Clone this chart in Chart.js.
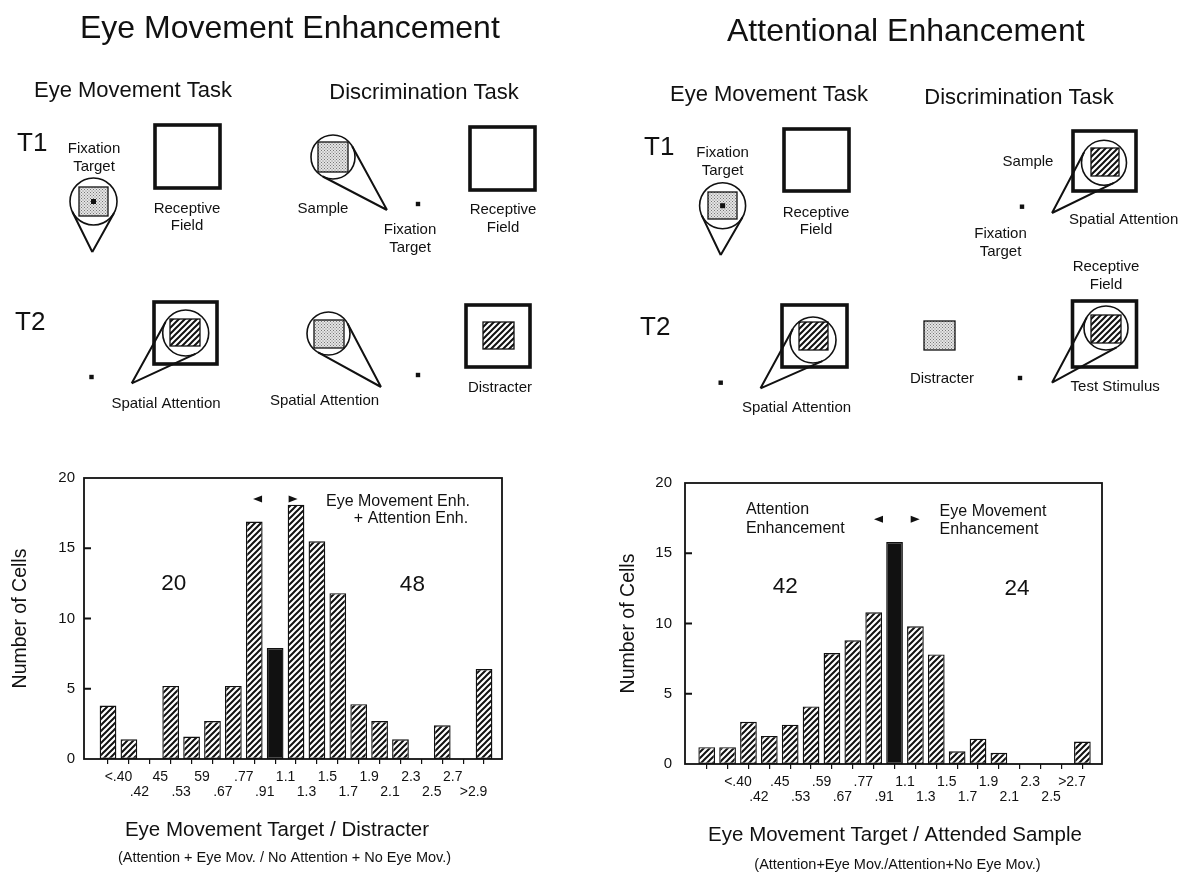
<!DOCTYPE html>
<html>
<head>
<meta charset="utf-8">
<title>Eye movement and attentional enhancement</title>
<script src="https://cdn.jsdelivr.net/npm/chart.js@4.4.1/dist/chart.umd.min.js"></script>
<style>
  html, body { margin: 0; padding: 0; background: #fff; }
  body { position: relative; width: 1185px; height: 872px; overflow: hidden; }
  canvas { position: absolute; }
</style>
</head>
<body>
<canvas id="sketch" width="1185" height="872" style="left:0;top:0"></canvas>
<canvas id="leftChart" width="560" height="412" style="left:0;top:460px"></canvas>
<canvas id="rightChart" width="595" height="412" style="left:590px;top:460px"></canvas>
<script>
// bin edges (ratio) and number of cells per bin
const leftEdges = ['<.40', '.42', '45', '.53', '59', '.67', '.77', '.91', '1.1', '1.3', '1.5', '1.7', '1.9', '2.1', '2.3', '2.5', '2.7', '>2.9'];
const leftCounts = [3.8, 1.4, 0, 5.2, 1.6, 2.7, 5.2, 16.9, 7.9, 18.1, 15.5, 11.8, 3.9, 2.7, 1.4, 0, 2.4, 0, 6.4];
const leftSolidBin = 8; // .91 - 1.1

const rightEdges = ['', '<.40', '.42', '.45', '.53', '.59', '.67', '.77', '.91', '1.1', '1.3', '1.5', '1.7', '1.9', '2.1', '2.3', '2.5', '>2.7'];
const rightCounts = [1.2, 1.2, 3.0, 2.0, 2.8, 4.1, 7.9, 8.8, 10.8, 15.8, 9.8, 7.8, 0.9, 1.8, 0.8, 0, 0, 0, 1.6];
const rightSolidBin = 9;

const INK = '#111';
const FAMILY = '"Liberation Sans", Arial, Helvetica, sans-serif';
Chart.defaults.font.family = FAMILY;
Chart.defaults.color = INK;

function makeHatch() {
  const c = document.createElement('canvas');
  c.width = c.height = 6;
  const g = c.getContext('2d');
  g.fillStyle = '#fff';
  g.fillRect(0, 0, 6, 6);
  g.strokeStyle = INK;
  g.lineWidth = 2;
  g.beginPath();
  g.moveTo(-1, 7); g.lineTo(7, -1);
  g.moveTo(-1, 1); g.lineTo(1, -1);
  g.moveTo(5, 7); g.lineTo(7, 5);
  g.stroke();
  return g.createPattern(c, 'repeat');
}

function makeStipple() {
  const c = document.createElement('canvas');
  c.width = c.height = 3;
  const g = c.getContext('2d');
  g.fillStyle = '#e4e4e4';
  g.fillRect(0, 0, 3, 3);
  g.fillStyle = '#777';
  g.fillRect(0, 0, 1, 1);
  g.fillRect(1.5, 1.5, 1, 1);
  return g.createPattern(c, 'repeat');
}

// box, inward y ticks, notes and x titles
function framePlugin(cfg) {
  return {
    id: 'frame',
    afterDatasetsDraw(chart) {
      const { ctx, chartArea: a, scales: { x, y } } = chart;
      ctx.save();
      ctx.strokeStyle = INK;
      ctx.fillStyle = INK;
      ctx.lineWidth = 1.8;
      ctx.strokeRect(a.left, a.top, a.right - a.left, a.bottom - a.top);
      ctx.beginPath();
      y.ticks.forEach(t => {
        if (t.value <= y.min || t.value >= y.max) return;
        const py = y.getPixelForValue(t.value);
        ctx.moveTo(a.left, py);
        ctx.lineTo(a.left + 7, py);
      });
      ctx.stroke();

      ctx.textBaseline = 'middle';
      cfg.notes.forEach(n => {
        ctx.font = n.size + 'px ' + FAMILY;
        ctx.textAlign = n.align || 'center';
        ctx.fillText(n.text, x.getPixelForValue(n.x), y.getPixelForValue(n.y));
      });
      cfg.arrows.forEach(ar => {
        const px = x.getPixelForValue(ar.x), py = y.getPixelForValue(ar.y);
        ctx.beginPath();
        ctx.moveTo(px + ar.dir * 4.5, py);
        ctx.lineTo(px - ar.dir * 4.5, py - 3.5);
        ctx.lineTo(px - ar.dir * 4.5, py + 3.5);
        ctx.closePath();
        ctx.fill();
      });
      ctx.textAlign = 'center';
      cfg.titles.forEach(t => {
        ctx.font = t.size + 'px ' + FAMILY;
        ctx.fillText(t.text, t.cx, t.cy);
      });
      ctx.restore();
    }
  };
}

function histogram(id, counts, edges, solidBin, cfg) {
  const hatch = makeHatch();
  return new Chart(document.getElementById(id), {
    type: 'bar',
    data: {
      datasets: [{
        data: counts.map((v, i) => ({ x: i, y: v })),
        backgroundColor: counts.map((v, i) => (i === solidBin ? INK : hatch)),
        borderColor: INK,
        borderWidth: 1.4,
        borderSkipped: false,
        barPercentage: 0.8,
        categoryPercentage: 1
      }]
    },
    options: {
      responsive: false,
      animation: false,
      events: [],
      layout: { padding: cfg.padding },
      plugins: { legend: { display: false }, tooltip: { enabled: false } },
      scales: {
        x: {
          type: 'linear',
          offset: false,
          min: cfg.xMin,
          max: cfg.xMax,
          afterBuildTicks: s => { s.ticks = edges.map((e, i) => ({ value: i + 0.5 })); },
          afterFit: s => { s.height = cfg.xHeight; },
          grid: { drawOnChartArea: false, drawTicks: true, tickLength: 5, color: INK, lineWidth: 1.2 },
          border: { display: false },
          ticks: {
            autoSkip: false, maxRotation: 0, minRotation: 0,
            padding: cfg.xPad, color: INK,
            font: { size: 14, lineHeight: 1.1 },
            callback: (v, i) => ((i + cfg.rowShift) % 2 ? ['', edges[i]] : [edges[i], ''])
          }
        },
        y: {
          min: 0,
          max: 20,
          afterFit: s => { s.width = cfg.yWidth; },
          grid: { display: false, drawTicks: false },
          border: { display: false },
          ticks: { stepSize: 5, padding: cfg.yPad, color: INK, font: { size: 15 } },
          title: {
            display: true, text: 'Number of Cells', color: INK,
            font: { size: 19.5 }, padding: { top: cfg.yTitlePad, bottom: 0 }
          }
        }
      }
    },
    plugins: [framePlugin(cfg)]
  });
}

histogram('leftChart', leftCounts, leftEdges, leftSolidBin, {
  padding: { left: 0, top: 17, right: 58, bottom: 0 },
  xMin: -1.15, xMax: 18.86, xHeight: 113, xPad: 5, rowShift: 0,
  yWidth: 84, yPad: 9, yTitlePad: 9,
  notes: [
    { text: '20', x: 3.15, y: 12.5, size: 22.5 },
    { text: '48', x: 14.57, y: 12.4, size: 22.5 },
    { text: 'Eye Movement Enh.', x: 17.33, y: 18.3, size: 16, align: 'right' },
    { text: '+ Attention Enh.', x: 17.24, y: 17.14, size: 16, align: 'right' }
  ],
  arrows: [{ x: 7.16, y: 18.5, dir: -1 }, { x: 8.86, y: 18.5, dir: 1 }],
  titles: [
    { text: 'Eye Movement Target / Distracter', cx: 277, cy: 370, size: 20.5 },
    { text: '(Attention + Eye Mov. / No Attention + No Eye Mov.)', cx: 284.5, cy: 398, size: 14.5 }
  ]
});

histogram('rightChart', rightCounts, rightEdges, rightSolidBin, {
  padding: { left: 0, top: 23, right: 83, bottom: 0 },
  xMin: -1.04, xMax: 18.94, xHeight: 108, xPad: 5, rowShift: 1,
  yWidth: 95, yPad: 13, yTitlePad: 26.5,
  notes: [
    { text: 'Attention', x: 1.88, y: 18.08, size: 16, align: 'left' },
    { text: 'Enhancement', x: 1.88, y: 16.73, size: 16, align: 'left' },
    { text: 'Eye Movement', x: 11.16, y: 17.96, size: 16, align: 'left' },
    { text: 'Enhancement', x: 11.16, y: 16.65, size: 16, align: 'left' },
    { text: '42', x: 3.76, y: 12.62, size: 22.5 },
    { text: '24', x: 14.87, y: 12.5, size: 22.5 }
  ],
  arrows: [{ x: 8.23, y: 17.42, dir: -1 }, { x: 9.99, y: 17.42, dir: 1 }],
  titles: [
    { text: 'Eye Movement Target / Attended Sample', cx: 305, cy: 375, size: 20.5 },
    { text: '(Attention+Eye Mov./Attention+No Eye Mov.)', cx: 307.5, cy: 405, size: 14.5 }
  ]
});

// task schematics above the histograms
const sk = document.getElementById('sketch').getContext('2d');
const hatchFill = makeHatch();
const stippleFill = makeStipple();
sk.fillStyle = INK;
sk.strokeStyle = INK;

function label(s, x, y, size, align) {
  sk.font = size + 'px ' + FAMILY;
  sk.textAlign = align || 'center';
  sk.fillStyle = INK;
  sk.fillText(s, x, y);
}
function field(x, y, w, h) {
  sk.lineWidth = 3.6;
  sk.strokeRect(x, y, w, h);
}
function patch(x, y, w, h, fill) {
  sk.fillStyle = fill;
  sk.fillRect(x, y, w, h);
  sk.lineWidth = 1.3;
  sk.strokeRect(x, y, w, h);
  sk.fillStyle = INK;
}
function spot(cx, cy, r, ax, ay) {
  sk.lineWidth = 1.6;
  sk.beginPath();
  sk.arc(cx, cy, r, 0, 2 * Math.PI);
  sk.stroke();
  const base = Math.atan2(ay - cy, ax - cx);
  const spread = Math.acos(r / Math.hypot(ax - cx, ay - cy));
  sk.lineWidth = 2;
  sk.beginPath();
  [base - spread, base + spread].forEach(t => {
    sk.moveTo(cx + r * Math.cos(t), cy + r * Math.sin(t));
    sk.lineTo(ax, ay);
  });
  sk.stroke();
}
function fix(x, y, s) {
  s = s || 4.4;
  sk.fillStyle = INK;
  sk.fillRect(x - s / 2, y - s / 2, s, s);
}

label('Eye Movement Enhancement', 80, 38, 32, 'left');
label('Attentional Enhancement', 727, 41, 32, 'left');

// left panel
label('Eye Movement Task', 133, 97, 22);
label('Discrimination Task', 424, 99, 22);
label('T1', 17, 151, 26, 'left');
label('T2', 15, 330, 26, 'left');

label('Fixation', 94, 153, 15);
label('Target', 94, 171, 15);
patch(79, 187, 29, 29, stippleFill);
spot(93.5, 201.5, 23.5, 92.3, 252);
fix(93.5, 201.5, 5);
field(155, 125, 65, 63);
label('Receptive', 187, 213, 15);
label('Field', 187, 230, 15);

patch(318, 142, 30, 30, stippleFill);
spot(333, 157, 22, 387, 210);
label('Sample', 323, 213, 15);
fix(418, 204);
label('Fixation', 410, 234, 15);
label('Target', 410, 252, 15);
field(470, 127, 65, 63);
label('Receptive', 503, 214, 15);
label('Field', 503, 232, 15);

fix(91.5, 377);
field(154, 302, 63, 62);
patch(170, 319, 30, 27, hatchFill);
spot(185.7, 333, 23, 131.7, 383.3);
label('Spatial Attention', 166, 408, 15);

patch(314, 320, 30, 28, stippleFill);
spot(328.5, 333.5, 21.5, 381, 387);
label('Spatial Attention', 324.5, 405, 15);
fix(418, 375);
field(466, 305, 64, 62);
patch(483, 322, 31, 27, hatchFill);
label('Distracter', 500, 392, 15);

// right panel
label('Eye Movement Task', 769, 101, 22);
label('Discrimination Task', 1019, 104, 22);
label('T1', 644, 155, 26, 'left');
label('T2', 640, 335, 26, 'left');

label('Fixation', 722.6, 157, 15);
label('Target', 722.6, 175, 15);
patch(708, 192, 29, 27, stippleFill);
spot(722.6, 205.7, 23, 720.7, 255);
fix(722.6, 205.7, 5);
field(784, 129, 65, 62);
label('Receptive', 816, 217, 15);
label('Field', 816, 234, 15);

field(1073, 131, 63, 60);
patch(1091, 148, 28, 28, hatchFill);
spot(1104, 162.7, 22.5, 1052, 213);
label('Sample', 1028, 166, 15);
label('Spatial Attention', 1069, 224, 15, 'left');
fix(1022, 206.7);
label('Fixation', 1000.5, 238, 15);
label('Target', 1000.5, 256, 15);
label('Receptive', 1106, 271, 15);
label('Field', 1106, 289, 15);

fix(720.7, 382.7);
field(782, 305, 65, 62);
patch(799, 322, 29, 28, hatchFill);
spot(813, 340, 23, 760.5, 388.3);
label('Spatial Attention', 796.5, 412, 15);

patch(924, 321, 31, 29, stippleFill);
label('Distracter', 942, 383, 15);
fix(1020, 378);
field(1072.5, 301, 64, 66);
patch(1091, 315, 30, 28, hatchFill);
spot(1106, 328, 22, 1052, 382.7);
label('Test Stimulus', 1070.6, 391, 15, 'left');
</script>
</body>
</html>
